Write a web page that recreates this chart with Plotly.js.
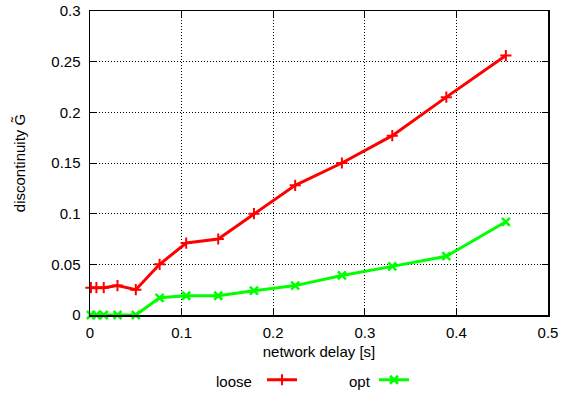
<!DOCTYPE html>
<html>
<head>
<meta charset="utf-8">
<script src="https://cdn.plot.ly/plotly-3.0.1.min.js"></script>
<style>html,body{margin:0;padding:0;background:#fff}#chart{width:566px;height:396px}</style>
</head>
<body>
<div id="chart"></div>
<script>
var delay = [0.001, 0.007, 0.015, 0.03, 0.05, 0.076, 0.105, 0.14, 0.179, 0.224, 0.275, 0.33, 0.389, 0.454];
var loose = [0.027, 0.027, 0.027, 0.029, 0.025, 0.05, 0.071, 0.075, 0.1, 0.128, 0.15, 0.177, 0.215, 0.256];
var opt = [0, 0, 0, 0, 0, 0.017, 0.019, 0.019, 0.024, 0.029, 0.039, 0.048, 0.058, 0.092];
var seriesNames = ['loose', 'opt'];
var xTicks = [0, 0.1, 0.2, 0.3, 0.4, 0.5];
var xTickText = ['0', '0.1', '0.2', '0.3', '0.4', '0.5'];
var yTicks = [0, 0.05, 0.1, 0.15, 0.2, 0.25, 0.3];
var yTickText = ['0', '0.05', '0.1', '0.15', '0.2', '0.25', '0.3'];

var font = 'Liberation Sans, Arial, sans-serif';
var fs = 15;
var traces = [
  {x: delay, y: loose, name: '', mode: 'lines+markers', legend: 'legend', cliponaxis: false,
   line: {color: '#ff0000', width: 3},
   marker: {symbol: 'cross-thin-open', size: 8, color: '#ff0000', line: {color: '#ff0000', width: 2}}},
  {x: delay, y: opt, name: '', mode: 'lines+markers', legend: 'legend2', cliponaxis: false,
   line: {color: '#00ff00', width: 3},
   marker: {symbol: 'x-thin-open', size: 8, color: '#00ff00', line: {color: '#00ff00', width: 2.5}}}
];
var axisCommon = {
  showline: true, linecolor: '#000', linewidth: 1.5, mirror: 'allticks',
  ticks: 'inside', ticklen: 6, tickcolor: '#000', tickwidth: 1,
  showgrid: true, gridcolor: '#000', griddash: '1px,2px', gridwidth: 1,
  zeroline: false, tickfont: {family: font, size: fs, color: '#000'}, automargin: false
};
var legendCommon = {orientation: 'h', yref: 'container', xref: 'container', xanchor: 'left', yanchor: 'middle',
  bgcolor: 'rgba(0,0,0,0)', borderwidth: 0, font: {family: font, size: fs}};
var layout = {
  width: 566, height: 396,
  margin: {l: 90, r: 18, t: 11, b: 81},
  paper_bgcolor: '#fff', plot_bgcolor: '#fff',
  font: {family: font, size: fs, color: '#000'},
  xaxis: Object.assign({}, axisCommon, {
    range: [0, 0.5], tickmode: 'array', tickvals: xTicks, ticktext: xTickText, ticklabelstandoff: 3,
    title: {text: 'network delay [s]', font: {family: font, size: fs}, standoff: 7}
  }),
  yaxis: Object.assign({}, axisCommon, {
    range: [0, 0.3], tickmode: 'array', tickvals: yTicks, ticktext: yTickText, ticklabelstandoff: 5,
    title: {text: 'discontinuity G\u0303', font: {family: font, size: fs}, standoff: 22}
  }),
  legend: Object.assign({}, legendCommon, {x: 262 / 566, y: (396 - 380) / 396}),
  legend2: Object.assign({}, legendCommon, {x: 374 / 566, y: (396 - 380) / 396}),
  annotations: [
    {text: seriesNames[0], xref: 'paper', yref: 'paper', x: (254 - 90) / 458, y: (315 - 381) / 304,
     xanchor: 'right', yanchor: 'middle', showarrow: false, font: {family: font, size: fs}},
    {text: seriesNames[1], xref: 'paper', yref: 'paper', x: (373 - 90) / 458, y: (315 - 381) / 304,
     xanchor: 'right', yanchor: 'middle', showarrow: false, font: {family: font, size: fs}}
  ],
  showlegend: true
};
Plotly.newPlot('chart', traces, layout, {displayModeBar: false, staticPlot: true});
</script>
</body>
</html>
